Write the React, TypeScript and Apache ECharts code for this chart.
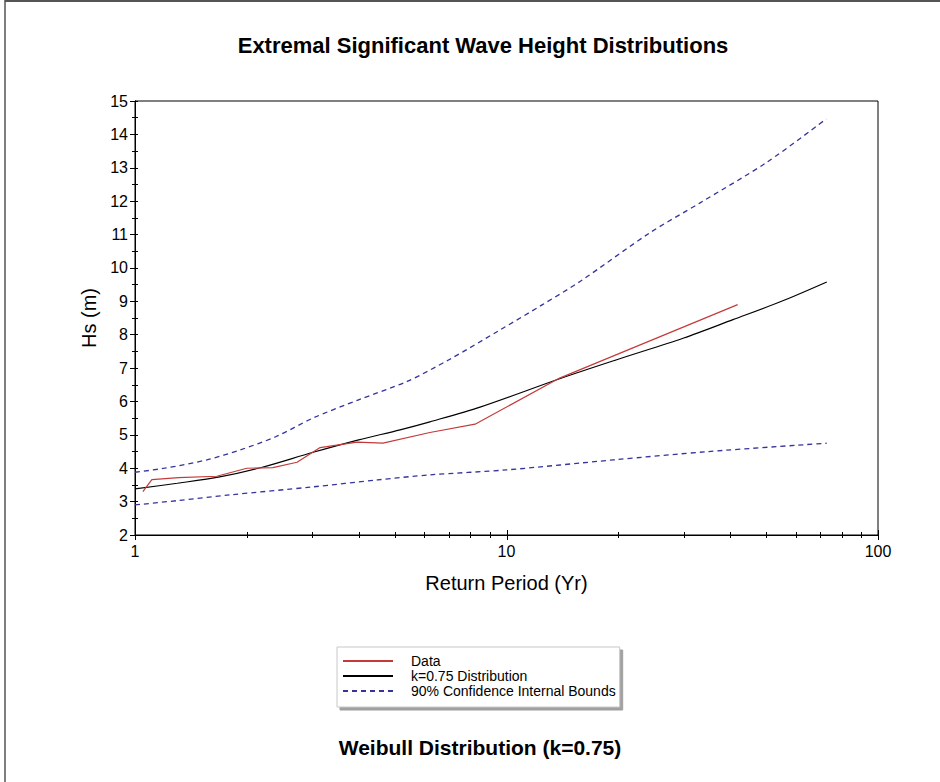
import React, { useEffect, useRef } from "react";
import * as echarts from "echarts";

// Return periods (years) and significant wave heights (m)
const dataPeriods = [1.05, 1.11, 1.31, 1.66, 2.0, 2.35, 2.73, 3.15, 3.96, 4.65, 6.22, 8.23, 13.9, 41.9];
const dataHs = [3.3, 3.66, 3.72, 3.76, 4.0, 4.02, 4.18, 4.62, 4.78, 4.75, 5.07, 5.32, 6.7, 8.9];

const distPeriods = [1.0, 1.3, 1.69, 2.2, 3.0, 4.0, 5.17, 6.22, 8.49, 13.9, 19.8, 30, 40.7, 55, 72.8];
const distHs = [3.38, 3.55, 3.74, 4.03, 4.47, 4.85, 5.15, 5.39, 5.83, 6.68, 7.25, 7.9, 8.45, 9.0, 9.58];

const upperPeriods = [1.0, 1.2, 1.56, 1.92, 2.4, 3.01, 4.0, 5.4, 7.0, 9.6, 12.5, 15.8, 24.3, 33.2, 50.3, 72.5];
const upperHs = [3.88, 4.0, 4.25, 4.55, 4.95, 5.5, 6.05, 6.6, 7.25, 8.14, 8.9, 9.6, 11.05, 11.95, 13.17, 14.46];

const lowerPeriods = [1.0, 1.3, 1.8, 3.0, 4.5, 6.2, 10, 19.4, 35, 72.8];
const lowerHs = [2.9, 3.03, 3.2, 3.44, 3.65, 3.8, 3.95, 4.25, 4.5, 4.75];

// x-axis tick marks of the log axis: [period, isMajor]
const xTicks: number[][] = [
  [1, 1], [2, 0], [3, 0], [4, 0], [5, 0], [6, 0], [7, 0], [8, 0], [9, 0],
  [10, 1], [20, 0], [30, 0], [40, 0], [50, 0], [60, 0], [70, 0], [80, 0], [90, 0], [100, 1],
];

const TITLE = "Extremal Significant Wave Height Distributions";
const SUBTITLE = "Weibull Distribution (k=0.75)";
const SERIES_DATA = "Data";
const SERIES_DIST = "k=0.75 Distribution";
const SERIES_BOUNDS = "90% Confidence Internal Bounds";

const zip = (xs: number[], ys: number[]) => xs.map((x, i) => [x, ys[i]]);

const FONT = "'Liberation Sans', Arial, sans-serif";

export default function App() {
  const ref = useRef<HTMLDivElement>(null);

  useEffect(() => {
    if (!ref.current) return;
    const chart = echarts.init(ref.current, null, { renderer: "svg" });
    const blue = "#34349c";
    chart.setOption({
      animation: false,
      backgroundColor: "#ffffff",
      textStyle: { fontFamily: FONT },
      title: [
        {
          text: TITLE,
          left: 483,
          top: 34,
          padding: 0,
          textAlign: "center",
          textStyle: { fontFamily: FONT, fontSize: 22, fontWeight: "bold", color: "#000" },
        },
        {
          text: SUBTITLE,
          left: 480,
          top: 737,
          padding: 0,
          textAlign: "center",
          textStyle: { fontFamily: FONT, fontSize: 21, fontWeight: "bold", color: "#000" },
        },
      ],
      legend: {
        data: [SERIES_DATA, SERIES_DIST, SERIES_BOUNDS],
        orient: "vertical",
        left: 337,
        top: 647,
        itemWidth: 50,
        itemHeight: 12,
        itemGap: 1,
        padding: [7, 4, 9, 5],
        borderColor: "#c8c8c8",
        borderWidth: 1,
        backgroundColor: "#fff",
        shadowColor: "#a0a0a0",
        shadowOffsetX: 3,
        shadowOffsetY: 3,
        shadowBlur: 0,
        inactiveColor: "#000",
        selectedMode: false,
        itemStyle: { color: "transparent", borderColor: "transparent", borderWidth: 0, opacity: 0 },
        textStyle: { fontFamily: FONT, fontSize: 14, color: "#000", padding: [0, 0, 0, 13] },
      },
      grid: {
        left: 135,
        right: 62,
        top: 101,
        bottom: 247,
        show: true,
        borderColor: "#000",
        borderWidth: 1,
        backgroundColor: "transparent",
      },
      xAxis: {
        type: "log",
        logBase: 10,
        min: 1,
        max: 100,
        name: "Return Period (Yr)",
        nameLocation: "middle",
        nameGap: 38,
        nameTextStyle: { fontFamily: FONT, fontSize: 20, color: "#000" },
        axisLine: { show: true, lineStyle: { color: "#000", width: 1 } },
        axisTick: { show: false },
        minorTick: { show: false },
        splitLine: { show: false },
        axisLabel: { fontFamily: FONT, fontSize: 16, color: "#000", margin: 8 },
      },
      yAxis: [
        {
          type: "value",
          min: 2,
          max: 15,
          interval: 1,
          name: "Hs (m)",
          nameLocation: "middle",
          nameGap: 33,
          nameTextStyle: { fontFamily: FONT, fontSize: 20, color: "#000" },
          axisLine: { show: true, lineStyle: { color: "#000", width: 1 } },
          axisTick: { show: true, inside: false, length: 5, lineStyle: { color: "#000" } },
          minorTick: { show: true, splitNumber: 2, length: 3, lineStyle: { color: "#000" } },
          splitLine: { show: false },
          axisLabel: { fontFamily: FONT, fontSize: 16, color: "#000", margin: 7 },
        },
        {
          type: "value",
          min: 2,
          max: 15,
          interval: 1,
          position: "left",
          axisLine: { show: true, lineStyle: { color: "#000", width: 1 } },
          axisTick: { show: true, inside: true, length: 3, lineStyle: { color: "#000" } },
          minorTick: { show: true, splitNumber: 2, length: 3, lineStyle: { color: "#000" } },
          splitLine: { show: false },
          axisLabel: { show: false },
        },
      ],
      series: [
        {
          name: SERIES_BOUNDS,
          type: "line",
          data: zip(upperPeriods, upperHs),
          smooth: 0.3,
          showSymbol: false,
          symbol: "none",
          lineStyle: { color: blue, width: 1.3, type: [5, 4] },
          itemStyle: { color: blue },
          z: 2,
        },
        {
          name: SERIES_BOUNDS,
          type: "line",
          data: zip(lowerPeriods, lowerHs),
          smooth: 0.3,
          showSymbol: false,
          symbol: "none",
          lineStyle: { color: blue, width: 1.3, type: [5, 4] },
          itemStyle: { color: blue },
          z: 2,
        },
        {
          name: SERIES_DIST,
          type: "line",
          data: zip(distPeriods, distHs),
          smooth: 0.3,
          showSymbol: false,
          symbol: "none",
          lineStyle: { color: "#000", width: 1.2 },
          itemStyle: { color: "#000" },
          z: 3,
        },
        {
          name: SERIES_DATA,
          type: "line",
          data: zip(dataPeriods, dataHs),
          showSymbol: false,
          symbol: "none",
          lineStyle: { color: "#c43a3a", width: 1.2 },
          itemStyle: { color: "#c43a3a" },
          z: 4,
        },
        {
          name: "xticks",
          type: "custom",
          silent: true,
          clip: false,
          z: 10,
          data: xTicks,
          encode: { x: 0, y: 1 },
          renderItem: (params: any, api: any) => {
            const p = api.coord([api.value(0), 2]);
            const major = api.value(1) === 1;
            const x = Math.round(p[0]) + 0.5;
            const y = Math.round(p[1]);
            return {
              type: "line",
              shape: { x1: x, y1: y - (major ? 5 : 3), x2: x, y2: y + (major ? 5 : 3) },
              style: { stroke: "#000", lineWidth: 1 },
            };
          },
        },
      ],
      graphic: [
        {
          type: "line",
          shape: { x1: 5, y1: 1, x2: 940, y2: 1 },
          style: { stroke: "#555", lineWidth: 2 },
          silent: true,
        },
        {
          type: "line",
          shape: { x1: 5, y1: 0, x2: 5, y2: 782 },
          style: { stroke: "#555", lineWidth: 1.5 },
          silent: true,
        },
      ],
    });
    return () => chart.dispose();
  }, []);

  return (
    <div
      ref={ref}
      style={{ position: "absolute", left: 0, top: 0, width: 940, height: 782, background: "#fff" }}
    />
  );
}
